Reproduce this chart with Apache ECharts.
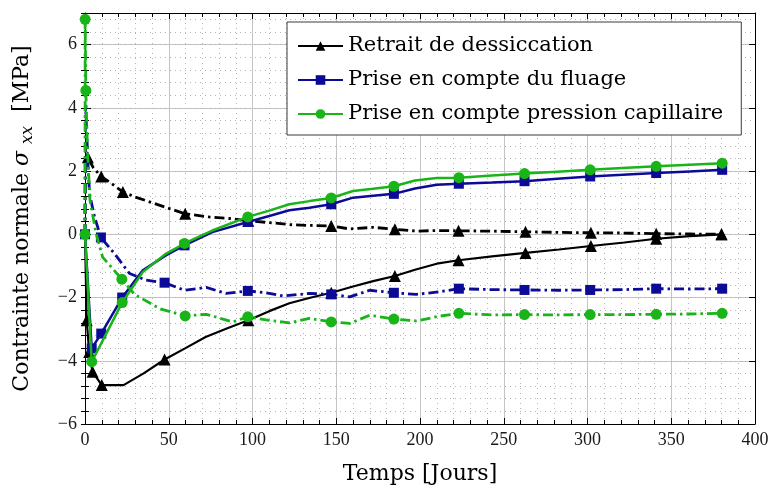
<!DOCTYPE html>
<html>
<head>
<meta charset="utf-8">
<script src="https://cdn.jsdelivr.net/npm/echarts@6/dist/echarts.min.js"></script>
<style>
  html, body { margin: 0; padding: 0; background: #fff; }
  #chart { width: 771px; height: 488px; }
</style>
</head>
<body>
<div id="chart"></div>
<script>
// Contrainte normale sigma_xx en fonction du temps (jours)
const seriesNames = [
  'Retrait de dessiccation',
  'Prise en compte du fluage',
  'Prise en compte pression capillaire'
];
const xTicks = [0, 50, 100, 150, 200, 250, 300, 350, 400];
const yTicks = [-6, -4, -2, 0, 2, 4, 6];

// Retrait de dessiccation (trait plein)
const retraitT = [0, 1, 2.5, 4.5, 10, 23, 35, 47.5, 60, 72, 85, 97.5, 110, 122, 135, 147, 160, 172, 185, 197, 210, 223, 243, 263, 283, 302, 322, 341, 361, 380];
const retraitV = [0, -2.72, -3.72, -4.35, -4.77, -4.77, -4.4, -3.96, -3.6, -3.25, -2.97, -2.72, -2.43, -2.18, -2.0, -1.85, -1.65, -1.48, -1.32, -1.12, -0.93, -0.82, -0.7, -0.59, -0.48, -0.37, -0.26, -0.14, -0.06, 0.0];
const retraitMarks = [1, 2.5, 4.5, 10, 47.5, 97.5, 147, 185, 223, 263, 302, 341, 380];

// Retrait de dessiccation (trait mixte)
const retraitMixT = [0, 0.3, 1.7, 5, 9.7, 16, 22.6, 30, 40, 50, 59.8, 74, 86, 97.5, 110, 124, 135, 147, 158, 172, 185, 198, 210, 223, 243, 263, 283, 302, 322, 341, 361, 380];
const retraitMixV = [0, 2.8, 2.44, 2.1, 1.83, 1.6, 1.34, 1.18, 1.0, 0.82, 0.65, 0.55, 0.5, 0.43, 0.37, 0.3, 0.28, 0.26, 0.17, 0.22, 0.16, 0.1, 0.12, 0.11, 0.1, 0.08, 0.06, 0.05, 0.04, 0.02, 0.01, 0.0];
const retraitMixMarks = [1.7, 9.7, 22.6, 59.8, 97.5, 147, 185, 223, 263, 302, 341, 380];

// Prise en compte du fluage (trait plein)
const fluageT = [0, 4, 9.7, 22.2, 34.5, 48.5, 59.4, 76, 97.2, 110, 122, 134, 147, 160, 172, 184.4, 197, 210, 223.2, 243, 262.4, 282, 301.6, 321, 341, 361, 380.4];
const fluageV = [0, -3.61, -3.14, -2.0, -1.14, -0.66, -0.35, 0.07, 0.39, 0.58, 0.76, 0.84, 0.95, 1.16, 1.22, 1.28, 1.45, 1.57, 1.6, 1.64, 1.68, 1.76, 1.83, 1.88, 1.94, 1.99, 2.04];
const fluageMarks = [0, 4, 9.7, 22.2, 59.4, 97.2, 147, 184.4, 223.2, 262.4, 301.6, 341, 380.4];

// Prise en compte du fluage (trait mixte)
const fluageMixT = [0, 0.3, 1.7, 2.7, 5.7, 9.5, 17.6, 26.6, 36.5, 47.5, 59.4, 72.4, 84.3, 97.2, 108, 118, 134, 147, 158, 170, 184.4, 197.7, 211.6, 223.2, 243, 262.4, 282, 301.6, 321, 341, 361, 380.4];
const fluageMixV = [0, 4.1, 2.34, 1.28, 0.55, -0.1, -0.61, -1.24, -1.45, -1.53, -1.77, -1.68, -1.87, -1.79, -1.85, -1.95, -1.87, -1.9, -1.98, -1.77, -1.85, -1.9, -1.82, -1.72, -1.75, -1.76, -1.77, -1.76, -1.75, -1.72, -1.73, -1.72];
const fluageMixMarks = [9.5, 47.5, 97.2, 147, 184.4, 223.2, 262.4, 301.6, 341, 380.4];

// Prise en compte pression capillaire (trait plein)
const capT = [0, 4, 9.7, 22.2, 34.5, 48.5, 59.4, 76, 97.2, 110, 122, 134, 147, 160, 172, 184.4, 197, 210, 223.2, 243, 262.4, 282, 301.6, 321, 341, 361, 380.4];
const capV = [0, -4.03, -3.45, -2.16, -1.19, -0.61, -0.29, 0.12, 0.55, 0.75, 0.95, 1.05, 1.15, 1.37, 1.44, 1.52, 1.7, 1.78, 1.79, 1.86, 1.92, 1.98, 2.04, 2.1, 2.15, 2.2, 2.25];
const capMarks = [0, 4, 22.2, 59.4, 97.2, 147, 184.4, 223.2, 262.4, 301.6, 341, 380.4];

// Prise en compte pression capillaire (trait mixte)
const capMixT = [0, 0.1, 0.5, 1.5, 3, 6.6, 10.5, 22, 29.6, 44.5, 59.8, 72.4, 88.2, 97.2, 110, 122, 134, 147, 158, 170, 184.4, 197.7, 211.6, 223.2, 243, 262.4, 282, 301.6, 321, 341, 361, 380.4];
const capMixV = [0, 6.8, 4.55, 2.65, 1.07, 0.03, -0.72, -1.42, -1.9, -2.35, -2.58, -2.53, -2.77, -2.61, -2.72, -2.8, -2.66, -2.77, -2.82, -2.56, -2.68, -2.74, -2.59, -2.5, -2.55, -2.54, -2.55, -2.54, -2.54, -2.53, -2.52, -2.5];
const capMixMarks = [0.1, 0.5, 22, 59.8, 97.2, 147, 184.4, 223.2, 262.4, 301.6, 341, 380.4];

const BLACK = '#000000';
const BLUE = '#0b0b98';
const GREEN = '#18b418';
const SERIF = '"DejaVu Serif", serif';
const TICKFONT = '"Liberation Serif", serif';
const DASHDOT = [10, 4, 2.5, 4];

function points(ts, vs, marks) {
  return ts.map((t, i) => {
    const item = { value: [t, vs[i]] };
    if (marks.indexOf(t) < 0) item.symbol = 'none';
    return item;
  });
}

function curve(name, ts, vs, marks, color, symbol, size, width, type, z) {
  return {
    name: name,
    type: 'line',
    data: points(ts, vs, marks),
    symbol: symbol,
    symbolSize: size,
    showAllSymbol: true,
    smooth: false,
    lineStyle: { color: color, width: width, type: type },
    itemStyle: { color: color, borderWidth: 0 },
    z: z,
    animation: false,
    silent: true
  };
}

const minus = v => String(v).replace('-', '\u2212');

const chart = echarts.init(document.getElementById('chart'), null, { renderer: 'canvas' });

chart.setOption({
  backgroundColor: '#ffffff',
  animation: false,
  grid: { left: 85, right: 16, top: 13, bottom: 64, containLabel: false, outerBoundsMode: 'none' },
  legend: {
    data: seriesNames,
    orient: 'vertical',
    left: 287,
    top: 22,
    itemWidth: 45,
    itemHeight: 12,
    itemGap: 10,
    padding: [12, 18, 9, 10],
    backgroundColor: '#ffffff',
    borderColor: '#3a3a3a',
    borderWidth: 1,
    borderRadius: 0,
    textStyle: { fontFamily: SERIF, fontSize: 21, color: '#000', lineHeight: 24 },
    z: 10
  },
  xAxis: [
    {
      type: 'value', min: xTicks[0], max: xTicks[xTicks.length - 1], interval: 50,
      position: 'bottom',
      axisLine: { show: true, onZero: false, lineStyle: { color: '#000', width: 1 } },
      axisTick: { show: true, inside: true, length: 6, lineStyle: { color: '#000', width: 1 } },
      minorTick: { show: true, splitNumber: 5, length: 4, lineStyle: { color: '#000', width: 1 } },
      splitLine: { show: true, lineStyle: { color: '#c4c4c4', width: 1 } },
      minorSplitLine: { show: true, lineStyle: { color: '#b4b4b4', width: 1, type: [1, 4] } },
      axisLabel: { show: true, margin: 7, fontFamily: TICKFONT, fontSize: 18, color: '#1a1a1a', formatter: minus },
      name: 'Temps [Jours]',
      nameLocation: 'middle',
      nameGap: 39,
      nameTextStyle: { fontFamily: SERIF, fontSize: 22, color: '#000' }
    },
    {
      type: 'value', min: xTicks[0], max: xTicks[xTicks.length - 1], interval: 50,
      position: 'top',
      axisLine: { show: true, onZero: false, lineStyle: { color: '#000', width: 1 } },
      axisTick: { show: true, inside: true, length: 6, lineStyle: { color: '#000', width: 1 } },
      minorTick: { show: true, splitNumber: 5, length: 4, lineStyle: { color: '#000', width: 1 } },
      splitLine: { show: false },
      axisLabel: { show: false }
    }
  ],
  yAxis: [
    {
      type: 'value', min: yTicks[0], max: 7, interval: 2,
      position: 'left',
      axisLine: { show: true, onZero: false, lineStyle: { color: '#000', width: 1 } },
      axisTick: { show: true, inside: true, length: 6, lineStyle: { color: '#000', width: 1 } },
      splitLine: { show: true, lineStyle: { color: '#c4c4c4', width: 1 } },
      axisLabel: {
        show: true, margin: 8, fontFamily: TICKFONT, fontSize: 18, color: '#1a1a1a',
        formatter: v => (yTicks.indexOf(v) < 0 ? '' : minus(v))
      },
      name: 'Contrainte normale {s|σ} {sub|xx}  [MPa]',
      nameLocation: 'middle',
      nameGap: 49,
      nameTextStyle: {
        fontFamily: SERIF, fontSize: 22, color: '#000',
        rich: {
          s: { fontFamily: SERIF, fontSize: 22, fontStyle: 'italic', color: '#000', lineHeight: 28 },
          sub: { fontFamily: SERIF, fontSize: 16, fontStyle: 'italic', color: '#000', lineHeight: 14, verticalAlign: 'bottom' }
        }
      }
    },
    {
      type: 'value', min: yTicks[0], max: 7, interval: 2,
      position: 'right',
      axisLine: { show: true, onZero: false, lineStyle: { color: '#000', width: 1 } },
      axisTick: { show: true, inside: true, length: 6, lineStyle: { color: '#000', width: 1 } },
      splitLine: { show: false },
      axisLabel: { show: false }
    },
    {
      // subdivisions (pas de 0.4) : grille pointillée et petites graduations à gauche
      type: 'value', min: yTicks[0], max: 7, interval: 0.4,
      position: 'left',
      axisLine: { show: false },
      axisTick: { show: true, inside: true, length: 4, lineStyle: { color: '#000', width: 1 } },
      splitLine: { show: true, lineStyle: { color: '#b4b4b4', width: 1, type: [1, 4] } },
      axisLabel: { show: false }
    },
    {
      // petites graduations à droite
      type: 'value', min: yTicks[0], max: 7, interval: 0.4,
      position: 'right',
      axisLine: { show: false },
      axisTick: { show: true, inside: true, length: 4, lineStyle: { color: '#000', width: 1 } },
      splitLine: { show: false },
      axisLabel: { show: false }
    }
  ],
  series: [
    curve(seriesNames[0], retraitT, retraitV, retraitMarks, BLACK, 'triangle', 12, 2.2, 'solid', 3),
    curve('Retrait de dessiccation (mixte)', retraitMixT, retraitMixV, retraitMixMarks, BLACK, 'triangle', 12, 2.8, DASHDOT, 3),
    curve(seriesNames[1], fluageT, fluageV, fluageMarks, BLUE, 'rect', 10, 2.5, 'solid', 4),
    curve('Prise en compte du fluage (mixte)', fluageMixT, fluageMixV, fluageMixMarks, BLUE, 'rect', 10, 2.8, DASHDOT, 4),
    curve(seriesNames[2], capT, capV, capMarks, GREEN, 'circle', 11, 2.5, 'solid', 5),
    curve('Prise en compte pression capillaire (mixte)', capMixT, capMixV, capMixMarks, GREEN, 'circle', 11, 2.8, DASHDOT, 5)
  ]
});
</script>
</body>
</html>
